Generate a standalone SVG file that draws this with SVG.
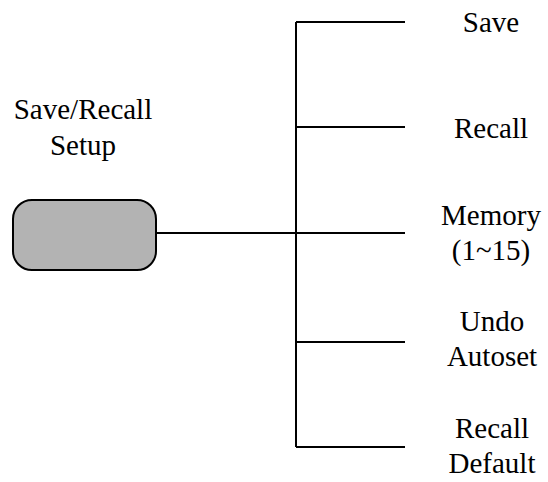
<svg xmlns="http://www.w3.org/2000/svg" width="548" height="482" viewBox="0 0 548 482">
<style>
.t{font-family:'Liberation Serif','Times New Roman',serif;font-size:29px;fill:#000;text-anchor:middle}
.ln{stroke:#000;stroke-width:2;fill:none}
</style>
<rect width="548" height="482" fill="#fff"/>
<g id="setup">
<rect x="13" y="200" width="143" height="70" rx="19" ry="19" fill="#b3b3b3" stroke="#000" stroke-width="2"/>
<text class="t" x="83" y="119">Save/Recall</text>
<text class="t" x="83" y="155">Setup</text>
</g>
<g id="connectors">
<path class="ln" d="M156,233H296M296,22V447M296,22H405M296,127H405M296,233H405M296,342H405M296,447H405"/>
</g>
<g id="save"><text class="t" x="491" y="32">Save</text></g>
<g id="recall"><text class="t" x="491" y="138">Recall</text></g>
<g id="memory"><text class="t" x="491" y="225">Memory</text><text class="t" x="491" y="260">(1~15)</text></g>
<g id="undo"><text class="t" x="492" y="331">Undo</text><text class="t" x="492" y="366">Autoset</text></g>
<g id="default"><text class="t" x="492" y="438">Recall</text><text class="t" x="492" y="473">Default</text></g>
</svg>
